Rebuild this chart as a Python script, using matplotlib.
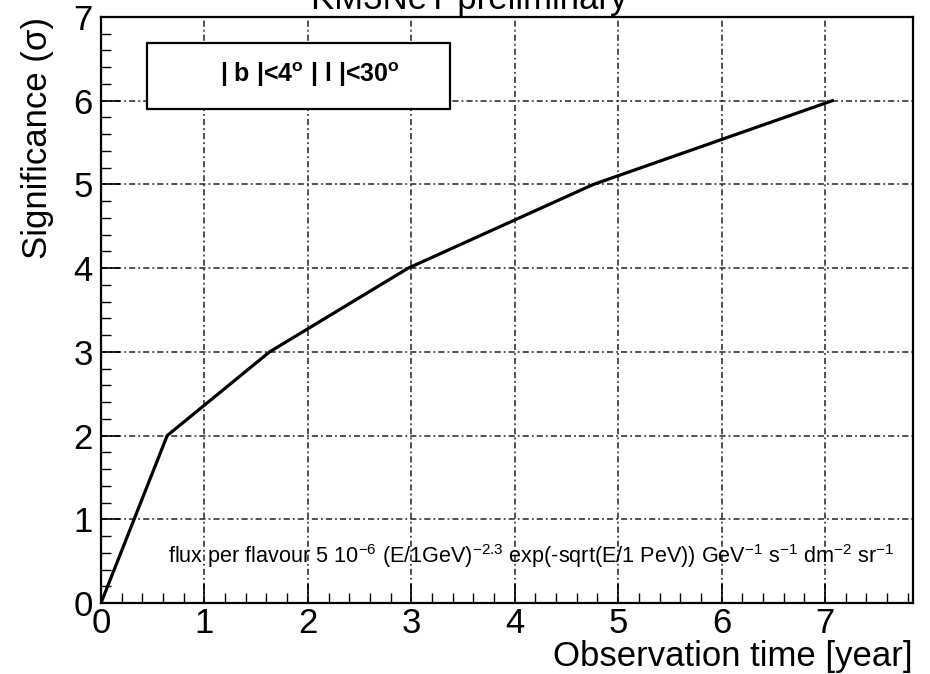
import matplotlib
matplotlib.use("Agg")
import matplotlib.pyplot as plt
from matplotlib.ticker import MultipleLocator
from matplotlib.patches import Rectangle

# Significance versus observation time
years = [0.0, 0.64, 1.63, 2.97, 4.76, 7.07]
sigma = [0.0, 2.0, 3.0, 4.0, 5.0, 6.0]

x_ticks = [0, 1, 2, 3, 4, 5, 6, 7]
y_ticks = [0, 1, 2, 3, 4, 5, 6, 7]

plt.rcParams["font.family"] = ["Liberation Sans", "DejaVu Sans"]
plt.rcParams["mathtext.fontset"] = "custom"
plt.rcParams["mathtext.rm"] = "Liberation Sans"
plt.rcParams["mathtext.bf"] = "Liberation Sans:bold"

fig = plt.figure(figsize=(9.30, 6.74), dpi=100)
ax = fig.add_axes([0.1086, 0.1053, 0.9817 - 0.1086, 0.9748 - 0.1053])

ax.set_xlim(0, 7.85)
ax.set_ylim(0, 7)

ax.set_xticks(x_ticks)
ax.set_yticks(y_ticks)
ax.xaxis.set_minor_locator(MultipleLocator(0.2))
ax.yaxis.set_minor_locator(MultipleLocator(0.2))
ax.tick_params(axis="both", which="major", direction="in", length=14, width=1.2,
               labelsize=25, colors="black")
ax.tick_params(axis="both", which="minor", direction="in", length=7, width=1.0)
ax.tick_params(axis="x", pad=3)
ax.tick_params(axis="y", pad=6)
ax.tick_params(top=False, right=False)

for side in ax.spines.values():
    side.set_linewidth(1.6)

ax.grid(True, which="major", color="#222222", linewidth=1.1,
        linestyle=(0, (4, 2, 1.2, 2)))
ax.set_axisbelow(True)

ax.plot(years, sigma, color="black", linewidth=2.3, zorder=3,
        solid_joinstyle="miter")

ax.set_ylabel("Significance (σ)", fontsize=25, loc="top", labelpad=14)
ax.set_xlabel("Observation time [year]", fontsize=25, loc="right", labelpad=0)

# Region selection box
box = Rectangle((0.44, 5.90), 3.37 - 0.44, 6.69 - 5.90, facecolor="white",
                edgecolor="black", linewidth=1.6, zorder=4)
ax.add_patch(box)
ax.text(2.02, 6.31, r"| b |<4$^{\mathbf{o}}$ | l |<30$^{\mathbf{o}}$",
        fontsize=18, fontweight="bold", ha="center", va="center", zorder=5)

ax.text(0.65, 0.56,
        r"flux per flavour 5 10$^{\mathrm{-6}}$ (E/1GeV)$^{\mathrm{-2.3}}$ "
        r"exp(-sqrt(E/1 PeV)) GeV$^{\mathrm{-1}}$ s$^{\mathrm{-1}}$ "
        r"dm$^{\mathrm{-2}}$ sr$^{\mathrm{-1}}$",
        fontsize=15.6, ha="left", va="center", zorder=5)

fig.text(0.505, 1.0, "KM3NeT preliminary", fontsize=25, ha="center",
         va="center")

fig.savefig("out.png", dpi=100)
